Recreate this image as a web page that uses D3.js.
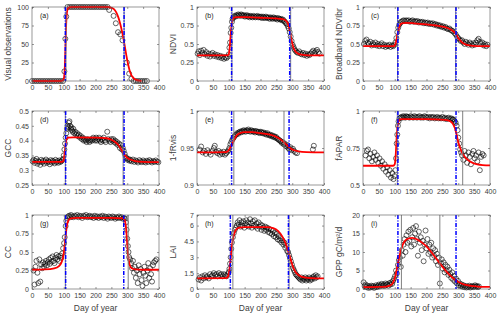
<!DOCTYPE html>
<html>
<head>
<meta charset="utf-8">
<script src="https://d3js.org/d3.v7.min.js"></script>
<style>
  body { margin: 0; background: #fff; }
  svg { font-family: "Liberation Sans", Arial, sans-serif; }
</style>
</head>
<body>
<div class="graph"></div>
<script>
/*---------- DATA ----------*/

// (a) visual observations, % green
const visualObs = [[0,0],[7,0],[14,0],[21,0],[28,0],[35,0],[42,0],[49,0],[56,0],[63,0],[70,0],[77,0],[84,0],[91,0],[98,0],
  [102,13],[105,57],[108,87],[112,100],[119,100],[126,100],[133,100],[140,100],[147,100],[154,100],[161,100],[168,100],
  [175,100],[182,100],[189,100],[196,100],[203,100],[210,100],[217,100],[224,100],[231,100],[238,100],[243,96],[257,88],
  [264,78],[271,66],[278,63],[285,55],[299,25],[306,10],[313,3],[320,0],[327,0],[334,0],[341,0],[348,0],[355,0],[362,0]];
const visualFit = [[0,0],[90,0],[96,0.5],[100,3],[103,15],[105,40],[107,70],[109,88],[112,97],[116,99.5],[125,100],[240,100],
  [250,99],[258,97],[265,93],[272,86],[278,77],[284,66],[289,55],[293,45],[297,35],[302,24],[307,15],[313,8],[320,4],
  [328,1.5],[338,0.5],[345,0]];

// (b) NDVI
const ndviObs = [[2,0.37],[5,0.40],[9,0.35],[13,0.41],[17,0.38],[21,0.42],[25,0.36],[29,0.39],[33,0.34],[37,0.37],[41,0.33],
  [45,0.36],[49,0.38],[53,0.34],[57,0.36],[61,0.33],[65,0.35],[69,0.32],[73,0.34],[77,0.31],[81,0.33],[85,0.30],[89,0.32],
  [93,0.31],[97,0.33],[100,0.36],[102,0.45],[104,0.52],[106,0.65],[108,0.72],[110,0.80],[112,0.84],[115,0.86],[118,0.88],
  [121,0.87],[124,0.89],[127,0.88],[130,0.90],[133,0.89],[136,0.88],[139,0.90],[142,0.89],[145,0.88],[148,0.89],[151,0.87],
  [154,0.88],[157,0.89],[160,0.87],[163,0.88],[166,0.86],[169,0.88],[172,0.87],[175,0.86],[178,0.88],[181,0.87],[184,0.86],
  [187,0.87],[190,0.88],[193,0.86],[196,0.87],[199,0.86],[202,0.87],[205,0.85],[208,0.87],[211,0.86],[214,0.85],[217,0.87],
  [220,0.86],[223,0.85],[226,0.86],[229,0.84],[232,0.86],[235,0.85],[238,0.84],[241,0.86],[244,0.85],[247,0.84],[250,0.85],
  [253,0.83],[256,0.85],[259,0.84],[262,0.83],[265,0.84],[268,0.82],[271,0.83],[274,0.81],[277,0.80],[280,0.78],[283,0.77],
  [286,0.74],[289,0.71],[292,0.66],[295,0.60],[298,0.54],[301,0.49],[304,0.46],[307,0.43],[310,0.41],[314,0.39],[318,0.38],
  [322,0.40],[326,0.37],[330,0.36],[334,0.38],[338,0.35],[342,0.37],[346,0.34],[350,0.36],[354,0.35],[358,0.37],[362,0.39],
  [366,0.41],[370,0.38],[374,0.40],[378,0.42],[382,0.39],[386,0.37]];
const ndviFit = [[0,0.345],[95,0.345],[100,0.36],[103,0.45],[106,0.62],[109,0.76],[112,0.83],[116,0.855],[125,0.862],
  [150,0.862],[200,0.855],[250,0.845],[270,0.835],[280,0.815],[286,0.78],[291,0.71],[295,0.62],[299,0.53],[304,0.45],
  [310,0.40],[318,0.37],[330,0.355],[350,0.347],[400,0.345]];

// (c) broadband NDVI
const ndvibrObs = [[3,0.50],[7,0.54],[11,0.56],[15,0.52],[19,0.50],[23,0.53],[27,0.48],[31,0.51],[35,0.49],[39,0.52],
  [43,0.48],[47,0.50],[51,0.47],[55,0.49],[59,0.51],[63,0.47],[67,0.49],[71,0.46],[75,0.48],[79,0.47],[83,0.49],[87,0.46],
  [91,0.48],[95,0.47],[99,0.49],[102,0.52],[105,0.58],[108,0.66],[111,0.72],[114,0.76],[117,0.78],[120,0.80],[124,0.81],
  [128,0.82],[132,0.81],[136,0.82],[140,0.81],[144,0.82],[148,0.80],[152,0.81],[156,0.82],[160,0.80],[164,0.81],[168,0.80],
  [172,0.81],[176,0.79],[180,0.80],[184,0.79],[188,0.80],[192,0.78],[196,0.79],[200,0.78],[204,0.79],[208,0.77],[212,0.78],
  [216,0.77],[220,0.78],[224,0.76],[228,0.77],[232,0.75],[236,0.76],[240,0.74],[244,0.75],[248,0.73],[252,0.74],[256,0.72],
  [260,0.73],[264,0.71],[268,0.70],[272,0.71],[276,0.69],[280,0.68],[284,0.67],[288,0.65],[292,0.63],[296,0.60],[300,0.58],
  [304,0.56],[308,0.54],[312,0.55],[316,0.52],[320,0.50],[324,0.53],[328,0.51],[332,0.49],[336,0.52],[340,0.50],[344,0.48],
  [348,0.51],[352,0.49],[356,0.52],[360,0.55],[364,0.57],[368,0.53],[372,0.50],[376,0.52],[380,0.48],[384,0.50],[388,0.47],
  [392,0.49]];
const ndvibrFit = [[0,0.47],[95,0.47],[100,0.48],[104,0.53],[108,0.62],[112,0.70],[116,0.75],[122,0.78],[135,0.785],
  [160,0.78],[200,0.765],[230,0.75],[255,0.73],[270,0.71],[282,0.68],[290,0.65],[296,0.61],[302,0.57],[310,0.53],
  [320,0.50],[335,0.48],[360,0.472],[400,0.47]];

// (d) GCC
const gccObs = [[2,0.330],[5,0.335],[8,0.325],[11,0.332],[14,0.338],[17,0.322],[20,0.330],[23,0.328],[26,0.318],[29,0.335],
  [32,0.327],[35,0.332],[38,0.322],[41,0.330],[44,0.336],[47,0.325],[50,0.331],[53,0.328],[56,0.320],[59,0.334],[62,0.326],
  [65,0.332],[68,0.329],[71,0.323],[74,0.335],[77,0.327],[80,0.331],[83,0.325],[86,0.333],[89,0.328],[92,0.330],[95,0.334],
  [98,0.338],[100,0.35],[102,0.37],[104,0.39],[106,0.41],[108,0.425],[110,0.44],[112,0.45],[114,0.445],[116,0.46],
  [118,0.465],[120,0.45],[122,0.44],[124,0.445],[126,0.435],[128,0.43],[130,0.44],[133,0.425],[136,0.43],[139,0.42],
  [142,0.425],[145,0.415],[148,0.42],[151,0.41],[154,0.415],[157,0.405],[160,0.41],[163,0.40],[166,0.405],[169,0.40],
  [172,0.395],[175,0.405],[178,0.40],[181,0.395],[184,0.40],[187,0.405],[190,0.40],[193,0.41],[196,0.405],[199,0.40],
  [202,0.41],[205,0.40],[208,0.405],[211,0.41],[214,0.40],[217,0.395],[220,0.405],[223,0.40],[226,0.41],[229,0.40],
  [232,0.395],[237,0.43],[240,0.405],[244,0.40],[247,0.395],[250,0.405],[253,0.40],[256,0.405],[259,0.395],[262,0.40],
  [265,0.39],[268,0.395],[271,0.385],[274,0.39],[277,0.375],[280,0.385],[283,0.37],[286,0.375],[289,0.365],[292,0.355],
  [295,0.345],[298,0.34],[301,0.335],[304,0.338],[307,0.332],[310,0.335],[314,0.33],[318,0.336],[322,0.328],[326,0.333],
  [330,0.330],[334,0.326],[338,0.334],[342,0.330],[346,0.327],[350,0.333],[354,0.329],[358,0.326],[362,0.332],[366,0.328],
  [370,0.334],[374,0.330],[378,0.326],[382,0.331],[386,0.328],[390,0.333],[394,0.329],[398,0.327]];
const gccFit = [[0,0.328],[95,0.328],[100,0.335],[103,0.36],[106,0.39],[109,0.405],[113,0.41],[130,0.411],[200,0.41],
  [235,0.408],[250,0.403],[262,0.395],[272,0.385],[280,0.372],[287,0.36],[293,0.35],[300,0.342],[310,0.336],[325,0.331],
  [350,0.328],[400,0.327]];

// (e) 1 - fRvis
const frvisObs = [[8,0.948],[13,0.952],[18,0.944],[23,0.946],[28,0.942],[33,0.947],[38,0.944],[43,0.941],[48,0.946],
  [53,0.950],[56,0.953],[60,0.945],[64,0.943],[68,0.946],[72,0.941],[76,0.944],[80,0.942],[84,0.945],[88,0.941],[92,0.943],
  [96,0.945],[99,0.947],[102,0.950],[105,0.955],[108,0.958],[111,0.961],[114,0.963],[117,0.965],[120,0.967],[123,0.968],
  [126,0.970],[129,0.969],[132,0.971],[135,0.972],[138,0.971],[141,0.973],[144,0.972],[147,0.974],[150,0.973],[153,0.972],
  [156,0.974],[159,0.973],[162,0.975],[165,0.973],[168,0.972],[171,0.974],[174,0.973],[177,0.972],[180,0.973],[183,0.971],
  [186,0.973],[189,0.972],[192,0.971],[195,0.972],[198,0.970],[201,0.972],[204,0.971],[207,0.970],[210,0.971],[213,0.969],
  [216,0.970],[219,0.968],[222,0.970],[225,0.968],[228,0.967],[231,0.968],[234,0.966],[237,0.967],[240,0.965],[243,0.966],
  [246,0.964],[249,0.965],[252,0.963],[255,0.962],[258,0.961],[261,0.960],[264,0.959],[267,0.957],[270,0.958],[273,0.955],
  [276,0.956],[279,0.953],[282,0.952],[285,0.954],[288,0.950],[291,0.948],[294,0.951],[298,0.947],[302,0.949],[306,0.946],
  [310,0.944],[315,0.943],[365,0.948],[368,0.953]];
const frvisFit = [[0,0.944],[90,0.9445],[98,0.946],[104,0.950],[110,0.955],[117,0.961],[125,0.967],[135,0.970],
  [150,0.9715],[175,0.9715],[200,0.970],[230,0.968],[250,0.965],[265,0.961],[278,0.956],[288,0.952],[296,0.949],
  [306,0.947],[320,0.9455],[345,0.9445],[400,0.944]];

// (f) fAPAR
const faparObs = [[8,0.70],[12,0.73],[16,0.74],[20,0.68],[24,0.71],[28,0.66],[32,0.69],[36,0.72],[40,0.67],[44,0.70],
  [48,0.65],[52,0.68],[56,0.63],[60,0.66],[64,0.61],[68,0.64],[72,0.59],[76,0.62],[80,0.57],[84,0.60],[88,0.55],[92,0.58],
  [96,0.54],[99,0.56],[102,0.60],[104,0.68],[106,0.78],[108,0.84],[110,0.90],[112,0.93],[115,0.95],[118,0.955],[121,0.96],
  [124,0.955],[127,0.965],[130,0.96],[133,0.955],[136,0.965],[139,0.96],[142,0.96],[146,0.955],[150,0.965],[154,0.96],
  [158,0.955],[162,0.965],[166,0.96],[170,0.955],[174,0.96],[178,0.965],[182,0.955],[186,0.96],[190,0.955],[194,0.965],
  [198,0.96],[202,0.955],[206,0.96],[210,0.95],[214,0.96],[218,0.955],[222,0.96],[226,0.95],[230,0.955],[234,0.96],
  [238,0.95],[242,0.955],[246,0.95],[250,0.96],[254,0.95],[258,0.955],[262,0.945],[266,0.95],[270,0.955],[274,0.945],
  [278,0.95],[281,0.94],[283,0.945],[286,0.94],[289,0.93],[292,0.92],[295,0.90],[298,0.87],[300,0.82],[303,0.78],
  [306,0.74],[309,0.72],[312,0.70],[316,0.67],[320,0.73],[324,0.70],[328,0.65],[332,0.72],[336,0.69],[340,0.64],
  [344,0.71],[348,0.73],[352,0.68],[356,0.70],[360,0.66],[364,0.72],[368,0.60],[372,0.69],[376,0.71],[380,0.70]];
const faparFit = [[0,0.63],[95,0.63],[100,0.64],[103,0.70],[106,0.82],[109,0.90],[113,0.935],[120,0.945],[200,0.945],
  [260,0.94],[275,0.93],[284,0.91],[290,0.88],[295,0.84],[300,0.79],[306,0.75],[314,0.71],[325,0.68],[340,0.655],
  [360,0.64],[400,0.632]];

// (g) canopy cover
const ccObs = [[5,0.25],[8,0.06],[11,0.30],[14,0.38],[17,0.22],[20,0.08],[23,0.40],[26,0.10],[29,0.33],[32,0.28],
  [35,0.36],[38,0.30],[41,0.34],[44,0.38],[47,0.32],[50,0.36],[53,0.40],[56,0.34],[59,0.42],[62,0.37],[65,0.44],[68,0.38],
  [71,0.35],[74,0.42],[77,0.46],[80,0.40],[83,0.44],[86,0.38],[89,0.45],[92,0.42],[95,0.48],[98,0.55],[101,0.62],
  [103,0.70],[106,0.85],[108,0.92],[111,0.96],[114,0.98],[117,0.99],[120,0.97],[123,1.00],[126,0.98],[130,0.97],
  [134,0.99],[138,0.98],[142,1.00],[146,0.97],[150,0.99],[154,0.98],[158,0.96],[162,0.99],[166,0.98],[170,1.00],
  [174,0.97],[178,0.98],[182,0.99],[186,0.97],[190,0.98],[194,0.96],[198,0.99],[202,0.97],[206,0.98],[210,0.96],
  [214,0.98],[218,0.97],[222,0.99],[226,0.96],[230,0.98],[234,0.97],[238,0.95],[242,0.98],[246,0.97],[250,0.96],
  [254,0.98],[258,0.97],[262,0.95],[266,0.97],[270,0.96],[274,0.98],[278,0.96],[282,0.97],[286,0.95],[290,0.96],
  [293,0.95],[296,0.90],[298,0.80],[300,0.68],[302,0.58],[304,0.50],[306,0.43],[309,0.40],[312,0.35],[315,0.28],
  [318,0.38],[321,0.22],[324,0.30],[327,0.15],[330,0.25],[333,0.08],[336,0.32],[339,0.20],[342,0.27],[345,0.12],
  [348,0.04],[351,0.22],[354,0.30],[357,0.18],[360,0.08],[363,0.25],[366,0.35],[369,0.15],[372,0.28],[375,0.20],
  [378,0.10],[381,0.32],[384,0.36],[388,0.38],[392,0.40]];
const ccFit = [[0,0.26],[40,0.265],[70,0.28],[85,0.31],[93,0.36],[98,0.43],[102,0.55],[106,0.72],[110,0.86],[115,0.93],
  [122,0.955],[140,0.96],[250,0.96],[288,0.955],[292,0.93],[295,0.87],[298,0.73],[301,0.55],[304,0.41],[308,0.32],
  [314,0.28],[325,0.265],[350,0.26],[400,0.26]];

// (h) LAI
const laiObs = [[5,0.9],[9,1.1],[13,0.8],[17,1.2],[21,1.0],[25,1.3],[29,1.1],[33,1.2],[37,1.0],[41,1.4],[45,1.2],[49,1.3],
  [53,1.5],[57,1.3],[61,1.4],[65,1.2],[69,1.5],[73,1.3],[77,1.4],[81,1.2],[85,1.4],[89,1.3],[93,1.2],[97,1.4],[100,1.6],
  [102,1.9],[104,2.4],[106,3.0],[108,3.8],[110,4.4],[113,4.9],[116,5.3],[119,5.6],[122,5.8],[125,6.0],[128,6.3],[131,6.1],
  [134,6.5],[137,5.9],[140,6.3],[143,6.0],[146,6.4],[149,5.8],[152,6.2],[155,6.5],[158,6.0],[161,6.3],[164,5.9],[167,6.6],
  [170,6.2],[173,5.8],[176,6.4],[179,6.0],[182,6.5],[185,5.9],[188,6.2],[191,5.7],[194,6.3],[197,5.9],[200,6.1],[203,5.6],
  [206,6.0],[209,5.8],[212,5.5],[215,5.9],[218,5.6],[221,5.8],[224,5.4],[227,5.7],[230,5.3],[233,5.6],[236,5.2],[239,5.5],
  [242,5.0],[245,5.3],[248,4.9],[251,5.2],[254,4.7],[257,5.0],[260,4.6],[263,4.8],[266,4.4],[269,4.6],[272,4.2],[275,4.4],
  [278,3.9],[281,4.1],[284,3.6],[287,3.5],[290,3.2],[293,2.9],[296,2.6],[299,2.3],[302,2.0],[305,1.8],[308,1.6],[311,1.4],
  [314,1.3],[317,1.2],[320,1.1],[323,1.0],[326,0.9],[329,1.1],[332,0.8],[335,1.0],[338,0.9],[341,1.1],[344,0.8],[347,1.0],
  [350,0.9],[353,1.1],[356,0.8],[359,1.0],[362,0.9],[365,1.1],[368,1.2],[371,1.0],[374,1.3],[377,1.1],[380,1.2]];
const laiFit = [[0,1.0],[90,1.02],[97,1.15],[101,1.6],[105,2.6],[109,3.8],[113,4.7],[118,5.3],[124,5.65],[132,5.8],
  [150,5.85],[220,5.85],[240,5.75],[255,5.5],[268,5.0],[278,4.4],[286,3.7],[292,3.1],[298,2.5],[305,1.9],[313,1.5],
  [323,1.25],[338,1.1],[360,1.03],[400,1.0]];

// (i) GPP
const gppObs = [[2,1.8],[5,0.8],[8,1.2],[11,0.5],[14,0.9],[17,0.3],[20,0.7],[23,0.4],[26,0.9],[29,0.5],[32,0.8],[35,0.3],
  [38,0.6],[41,1.0],[44,0.5],[47,0.8],[50,1.2],[53,0.7],[56,1.0],[59,1.4],[62,0.9],[65,1.2],[68,0.8],[71,1.5],[74,1.1],
  [77,1.3],[80,0.9],[83,1.6],[86,1.2],[89,1.8],[92,1.4],[95,2.2],[98,2.8],[101,3.5],[104,5.0],[107,4.2],[110,6.5],
  [113,7.8],[116,8.5],[119,6.0],[122,10.5],[125,9.0],[128,12.0],[131,13.5],[134,10.0],[137,14.5],[140,12.5],[143,15.5],
  [146,13.0],[149,16.0],[152,11.5],[155,14.0],[158,16.5],[161,12.0],[164,15.0],[167,17.0],[170,13.5],[173,9.0],[176,15.5],
  [179,12.5],[182,14.0],[185,10.5],[188,13.0],[191,7.5],[194,12.0],[197,15.8],[200,11.0],[203,13.5],[206,9.5],[209,12.0],
  [212,10.0],[215,12.5],[218,8.5],[221,11.0],[224,9.0],[227,10.5],[230,7.5],[233,9.5],[236,6.5],[239,8.5],[242,1.5],
  [245,7.0],[248,8.0],[251,5.5],[254,7.2],[257,4.5],[260,6.5],[263,5.0],[266,6.0],[269,3.8],[272,5.2],[275,4.0],[278,3.0],
  [281,4.5],[284,2.5],[287,3.5],[290,2.0],[293,2.8],[296,1.5],[299,2.2],[302,1.0],[305,1.5],[308,0.8],[311,1.2],[314,0.6],
  [317,1.0],[320,0.5],[323,0.8],[326,0.4],[329,0.7],[332,0.5],[335,0.9],[338,0.4],[341,0.6],[344,0.8],[347,0.5],[350,0.7],
  [353,1.0],[356,0.6],[359,0.8],[362,0.5],[365,0.7]];
const gppFit = [[0,0.5],[60,0.55],[85,0.9],[95,1.8],[102,3.5],[108,6.0],[115,9.0],[123,11.5],[132,13.0],[145,13.7],
  [155,13.8],[170,13.4],[185,12.6],[200,11.5],[215,10.0],[230,8.3],[245,6.6],[260,5.0],[275,3.6],[290,2.5],[305,1.7],
  [320,1.2],[340,0.85],[370,0.6],[400,0.55]];

// start / end of season (blue) and other transition dates (grey), day of year
const blueDates = [[105,290],[109,292],[110,293],[106,290],[109,290],[110,293],[106,289],[105,288],[110,293]];
const greyDates = [[107,290],[110,295],[109,292],[105,287],[116,274],[108,314],[105,303],[113,290],[121,242]];

const xTicks = [0,50,100,150,200,250,300,350,400];

/*---------- LAYOUT ----------*/

const SIZE = {X:500, Y:318};
const COLS = [32, 197, 363];
const ROWS = [7, 111, 215];
const PANEL = {W:127, H:74};

const panels = [
  {tag:"(a)", label:"Visual observations", obs:visualObs, fit:visualFit, y:[0,100], ticks:[0,25,50,75,100]},
  {tag:"(b)", label:"NDVI", obs:ndviObs, fit:ndviFit, y:[0,1], ticks:[0,0.25,0.5,0.75,1]},
  {tag:"(c)", label:"Broadband NDVIbr", obs:ndvibrObs, fit:ndvibrFit, y:[0,1], ticks:[0,0.25,0.5,0.75,1]},
  {tag:"(d)", label:"GCC", obs:gccObs, fit:gccFit, y:[0.25,0.5], ticks:[0.25,0.3,0.35,0.4,0.45,0.5]},
  {tag:"(e)", label:"1-fRvis", obs:frvisObs, fit:frvisFit, y:[0.9,1], ticks:[0.9,0.95,1]},
  {tag:"(f)", label:"fAPAR", obs:faparObs, fit:faparFit, y:[0.5,1], ticks:[0.5,0.75,1]},
  {tag:"(g)", label:"CC", obs:ccObs, fit:ccFit, y:[0,1], ticks:[0,0.25,0.5,0.75,1]},
  {tag:"(h)", label:"LAI", obs:laiObs, fit:laiFit, y:[0,7], ticks:[0,1.5,3,4.5,6,7]},
  {tag:"(i)", label:"GPP gC/m\u00B2/d", obs:gppObs, fit:gppFit, y:[0,20], ticks:[0,5,10,15,20]}
];

const TEXT = "#404040";

const svg = d3.select(".graph").append("svg")
    .attr("width", SIZE.X)
    .attr("height", SIZE.Y);

panels.forEach((p, i) => {
    const col = i % 3, row = Math.floor(i / 3);
    const g = svg.append("g")
        .attr("transform", `translate(${COLS[col]}, ${ROWS[row]})`);

    const x = d3.scaleLinear().domain([0, 400]).range([0, PANEL.W]);
    const y = d3.scaleLinear().domain(p.y).range([PANEL.H, 0]);

    //observations
    g.append("g").selectAll("circle")
        .data(p.obs)
        .enter()
        .append("circle")
            .attr("cx", d => x(d[0]))
            .attr("cy", d => y(d[1]))
            .attr("r", 2.5)
            .attr("fill", "none")
            .attr("stroke", "#000")
            .attr("stroke-width", 0.6);

    //fitted curve
    const line = d3.line()
        .x(d => x(d[0]))
        .y(d => y(d[1]))
        .curve(d3.curveMonotoneX);

    g.append("path")
        .datum(p.fit)
        .attr("d", line)
        .attr("fill", "none")
        .attr("stroke", "#ff0000")
        .attr("stroke-width", 1.8);

    //transition dates
    g.selectAll(".grey")
        .data(greyDates[i])
        .enter()
        .append("line")
            .attr("x1", d => x(d)).attr("x2", d => x(d))
            .attr("y1", 0).attr("y2", PANEL.H)
            .attr("stroke", "#808080")
            .attr("stroke-width", 1);

    g.selectAll(".blue")
        .data(blueDates[i])
        .enter()
        .append("line")
            .attr("x1", d => x(d)).attr("x2", d => x(d))
            .attr("y1", 0).attr("y2", PANEL.H)
            .attr("stroke", "#0000ff")
            .attr("stroke-width", 1.5)
            .attr("stroke-dasharray", "4,1.5,1,1.5");

    //axes, ticks pointing in like matlab
    const fmt = d => String(+d.toFixed(3));
    const xAxis = g.append("g")
        .attr("transform", `translate(0, ${PANEL.H})`)
        .call(d3.axisBottom(x).tickValues(xTicks).tickSize(-2).tickPadding(4).tickFormat(fmt));
    const yAxis = g.append("g")
        .call(d3.axisLeft(y).tickValues(p.ticks).tickSize(-2).tickPadding(3).tickFormat(fmt));
    g.append("g")
        .call(d3.axisTop(x).tickValues(xTicks).tickSize(-2).tickFormat(""));
    g.append("g")
        .attr("transform", `translate(${PANEL.W}, 0)`)
        .call(d3.axisRight(y).tickValues(p.ticks).tickSize(-2).tickFormat(""));

    g.selectAll(".domain").remove();
    g.selectAll(".tick line").attr("stroke", "#555").attr("stroke-width", 0.6);
    g.selectAll(".tick text")
        .attr("fill", TEXT)
        .style("font-size", "7px");

    g.append("rect")
        .attr("width", PANEL.W)
        .attr("height", PANEL.H)
        .attr("fill", "none")
        .attr("stroke", "#555")
        .attr("stroke-width", 0.6);

    //panel tag
    g.append("text")
        .attr("x", 8)
        .attr("y", 11)
        .attr("fill", "#222")
        .style("font-size", "7px")
        .text(p.tag);

    //y label
    g.append("text")
        .attr("transform", `translate(-21, ${PANEL.H / 2}) rotate(-90)`)
        .attr("text-anchor", "middle")
        .attr("fill", TEXT)
        .style("font-size", "8.5px")
        .text(p.label);

    //x label on bottom row only
    if (row === 2) {
        g.append("text")
            .attr("x", PANEL.W / 2)
            .attr("y", PANEL.H + 22)
            .attr("text-anchor", "middle")
            .attr("fill", TEXT)
            .style("font-size", "8.5px")
            .text("Day of year");
    }
});
</script>
</body>
</html>
